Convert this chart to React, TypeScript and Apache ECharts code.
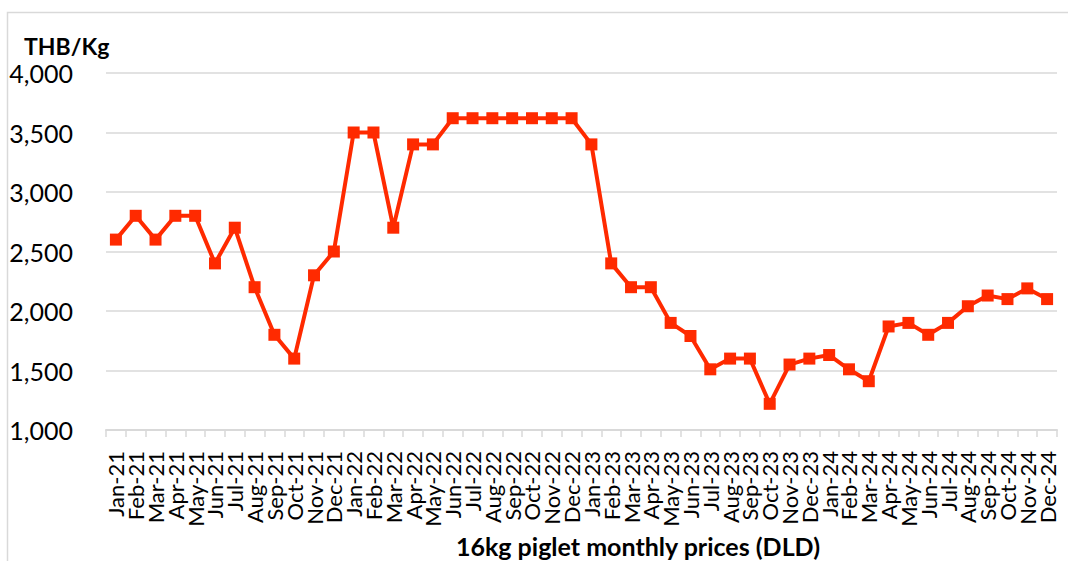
import React, { useEffect, useRef } from "react";
import * as echarts from "echarts";

const months = ["Jan", "Feb", "Mar", "Apr", "May", "Jun", "Jul", "Aug", "Sep", "Oct", "Nov", "Dec"];
const years = ["21", "22", "23", "24"];
const categories: string[] = years.flatMap((y) => months.map((m) => `${m}-${y}`));

const prices2021 = [2600, 2800, 2600, 2800, 2800, 2400, 2700, 2200, 1800, 1600, 2300, 2500];
const prices2022 = [3500, 3500, 2700, 3400, 3400, 3620, 3620, 3620, 3620, 3620, 3620, 3620];
const prices2023 = [3400, 2400, 2200, 2200, 1900, 1790, 1510, 1600, 1600, 1220, 1550, 1600];
const prices2024 = [1630, 1510, 1410, 1870, 1900, 1800, 1900, 2040, 2130, 2100, 2190, 2100];
const prices = [...prices2021, ...prices2022, ...prices2023, ...prices2024];

const yTicks = { min: 1000, max: 4000, interval: 500 };
const yUnit = "THB/Kg";
const xTitle = "16kg piglet monthly prices (DLD)";

export default function App() {
  const ref = useRef<HTMLDivElement>(null);
  useEffect(() => {
    if (!ref.current) return;
    const chart = echarts.init(ref.current, undefined, { renderer: "svg" });
    chart.setOption({
      animation: false,
      backgroundColor: "#ffffff",
      grid: { left: 106, right: 11, top: 73, bottom: 131, containLabel: false },
      graphic: [
        {
          type: "rect",
          shape: { x: 7.5, y: 12.5, width: 1100, height: 600 },
          style: { fill: "none", stroke: "#d9d9d9", lineWidth: 1.5 },
          silent: true,
        },
        {
          type: "text",
          x: 24,
          y: 46,
          style: {
            text: yUnit,
            font: "bold 23px Lato",
            fill: "#000000",
            verticalAlign: "middle",
            align: "left",
          },
        },
        {
          type: "text",
          x: 638,
          y: 546,
          style: {
            text: xTitle,
            font: "bold 25px Lato",
            fill: "#000000",
            verticalAlign: "middle",
            align: "center",
          },
        },
      ],
      xAxis: {
        type: "category",
        data: categories,
        boundaryGap: true,
        axisLine: { lineStyle: { color: "#d9d9d9", width: 2 } },
        axisTick: { show: true, length: 7, lineStyle: { color: "#d9d9d9", width: 1.5 } },
        axisLabel: {
          interval: 0,
          rotate: 90,
          margin: 21,
          fontFamily: "Lato",
          fontSize: 22,
          color: "#000000",
        },
        splitLine: { show: false },
      },
      yAxis: {
        type: "value",
        min: yTicks.min,
        max: yTicks.max,
        interval: yTicks.interval,
        axisLine: { show: false },
        axisTick: { show: false },
        axisLabel: {
          margin: 33,
          fontFamily: "Lato",
          fontSize: 25,
          lineHeight: 24,
          color: "#000000",
          formatter: (v: number) => v.toLocaleString("en-US"),
        },
        splitLine: { lineStyle: { color: "#d9d9d9", width: 1.5 } },
      },
      series: [
        {
          type: "line",
          data: prices,
          symbol: "rect",
          symbolSize: 12,
          lineStyle: { color: "#ff2a00", width: 4 },
          itemStyle: { color: "#ff2a00" },
          z: 3,
        },
      ],
    });
    return () => chart.dispose();
  }, []);
  return (
    <div
      ref={ref}
      style={{ position: "fixed", left: 0, top: 0, width: 1068, height: 561 }}
    />
  );
}
